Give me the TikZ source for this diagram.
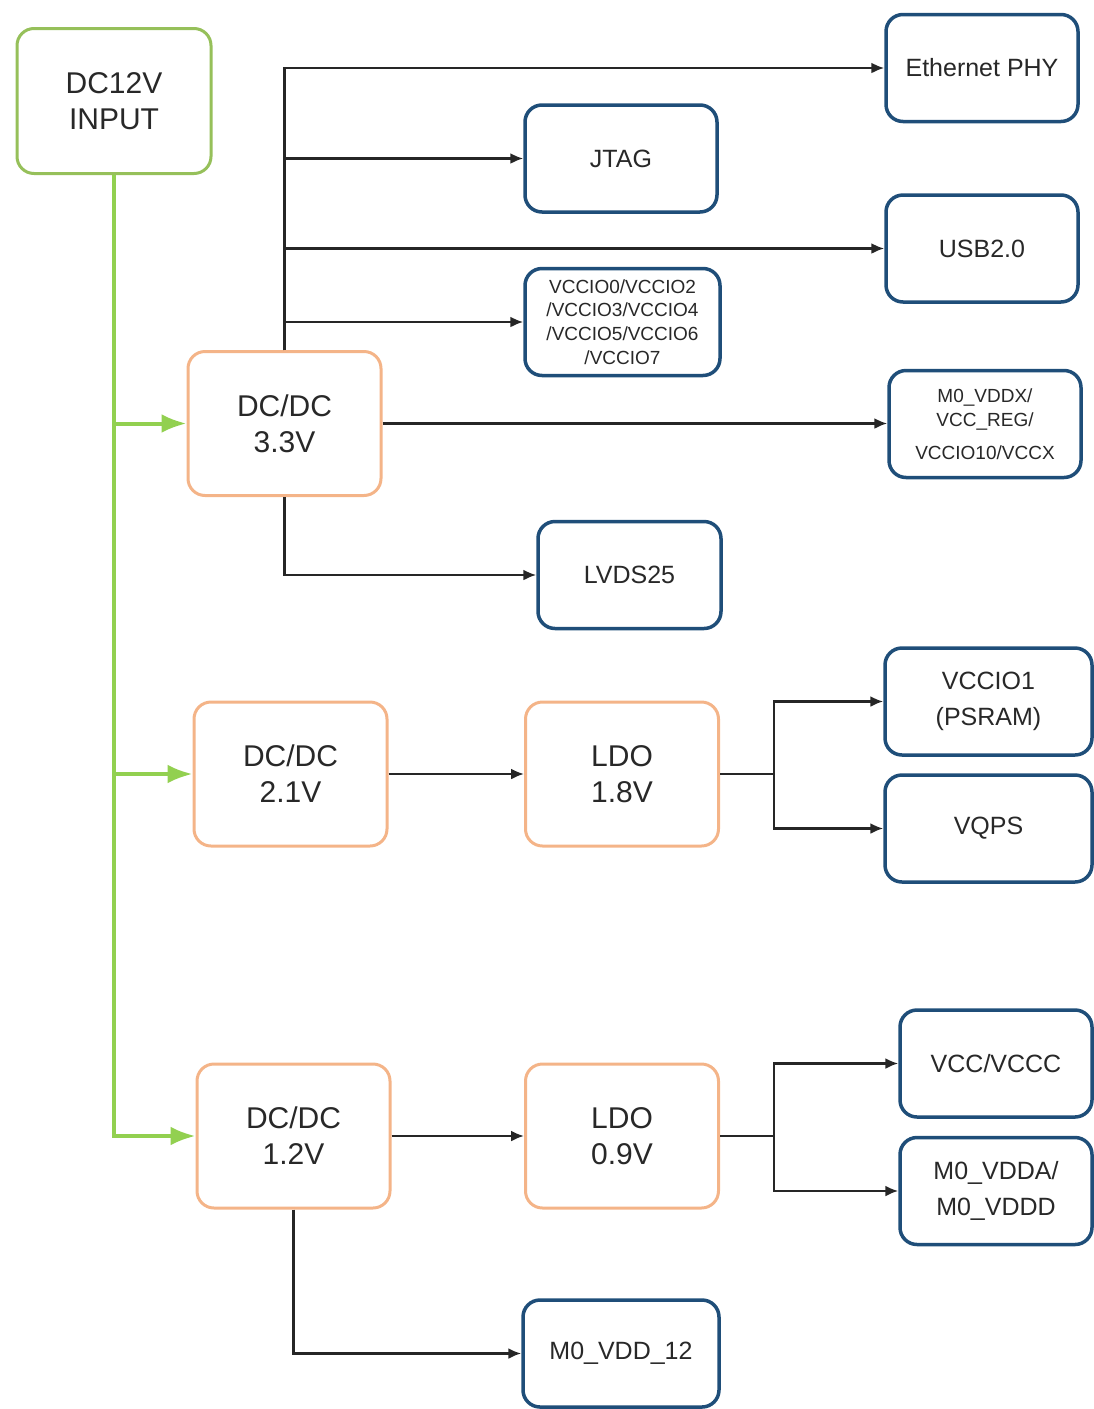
\documentclass[tikz,border=0pt]{standalone}
\usepackage{fontspec}
\setmainfont{Liberation Sans}
\usepackage{tikz}
\usetikzlibrary{positioning,arrows.meta,calc}
\definecolor{verde}{RGB}{146,208,80}
\definecolor{verdeborde}{RGB}{150,192,90}
\definecolor{naranja}{RGB}{244,180,136}
\definecolor{azul}{RGB}{31,78,121}
\definecolor{gristexto}{RGB}{40,40,40}

\begin{document}
\begin{tikzpicture}[x=1pt, y=-1pt,
  caja/.style={draw=#1, fill=white, rounded corners=17pt, align=center,
    inner sep=2pt, text=gristexto},
  entrada/.style={caja=verdeborde, line width=3pt, minimum width=194pt,
    minimum height=145pt, font=\fontsize{30}{36}\selectfont},
  fuente/.style={caja=naranja, line width=3pt, minimum width=193pt,
    minimum height=144pt, font=\fontsize{30}{36}\selectfont},
  carga/.style={caja=azul, line width=3.5pt, minimum width=192pt,
    minimum height=107pt, font=\fontsize{25}{36}\selectfont},
  linea/.style={line width=2.2pt, black!85},
  flecha/.style={linea, -{Latex[length=13pt,width=11pt]}},
  flechaverde/.style={-{Latex[length=25pt,width=19pt]}, line width=4pt,
    verde},
]
  \useasboundingbox (0,0) rectangle (1093,1409);
  % Entrada y convertidores
  \node[entrada] (in) at (114,101) {DC12V\\INPUT};
  \node[fuente] (dc33) at (284.5,423.5) {DC/DC\\3.3V};
  \node[fuente] (dc21) at (290.5,774) {DC/DC\\2.1V};
  \node[fuente] (dc12) at (293.5,1136) {DC/DC\\1.2V};
  \node[fuente] (ldo18) at (622,774) {LDO\\1.8V};
  \node[fuente] (ldo09) at (622,1136) {LDO\\0.9V};
  % Cargas
  \node[carga] (eth) at (982,68) {Ethernet PHY};
  \node[carga] (jtag) at (621,158.5) {JTAG};
  \node[carga] (usb) at (982,248.5) {USB2.0};
  \node[carga, minimum width=195pt, font=\fontsize{19}{23.7}\selectfont]
    (vccio) at (622.5,322) {VCCIO0/VCCIO2\\/VCCIO3/VCCIO4\\/VCCIO5/VCCIO6\\/VCCIO7};
  \node[carga, font=\fontsize{19}{24}\selectfont] (vddx) at (985,424)
    {M0\_VDDX/\\VCC\_REG/\\[9pt]VCCIO10/VCCX};
  \node[carga, minimum width=183pt] (lvds) at (629.5,575) {LVDS25};
  \node[carga, minimum width=207pt] (vccio1) at (988.5,701.5) {VCCIO1\\(PSRAM)};
  \node[carga, minimum width=207pt] (vqps) at (988.5,828.5) {VQPS};
  \node[carga] (vcc) at (996,1063.5) {VCC/VCCC};
  \node[carga] (vdda) at (996,1191) {M0\_VDDA/\\M0\_VDDD};
  \node[carga, minimum width=196pt] (vdd12) at (621,1353.5) {M0\_VDD\_12};
  % Bus de 12V
  \draw[flechaverde] (in.south) |- (dc33.west);
  \draw[flechaverde] (in.south) |- (dc21.west);
  \draw[flechaverde] (in.south) |- (dc12.west);
  % Rama de 3.3V
  \foreach \c in {eth, jtag, usb, vccio}
    \draw[flecha] (dc33.north) |- (\c.west);
  \draw[flecha] (dc33.east) -- (dc33.east -| vddx.west);
  \draw[flecha] (dc33.south) |- (lvds.west);
  % Ramas de los LDO
  \draw[flecha] (dc21.east) -- (ldo18.west);
  \draw[flecha] (dc12.east) -- (ldo09.west);
  \coordinate (n18) at ($(ldo18.east)+(54,0)$);
  \coordinate (n09) at ($(ldo09.east)+(54,0)$);
  \draw[linea] (ldo18.east) -- (n18);
  \draw[linea] (ldo09.east) -- (n09);
  \foreach \a/\b in {n18/vccio1, n18/vqps, n09/vcc, n09/vdda}
    \draw[flecha] (\a) |- (\b.west);
  \draw[flecha] (dc12.south) |- (vdd12.west);
\end{tikzpicture}
\end{document}
